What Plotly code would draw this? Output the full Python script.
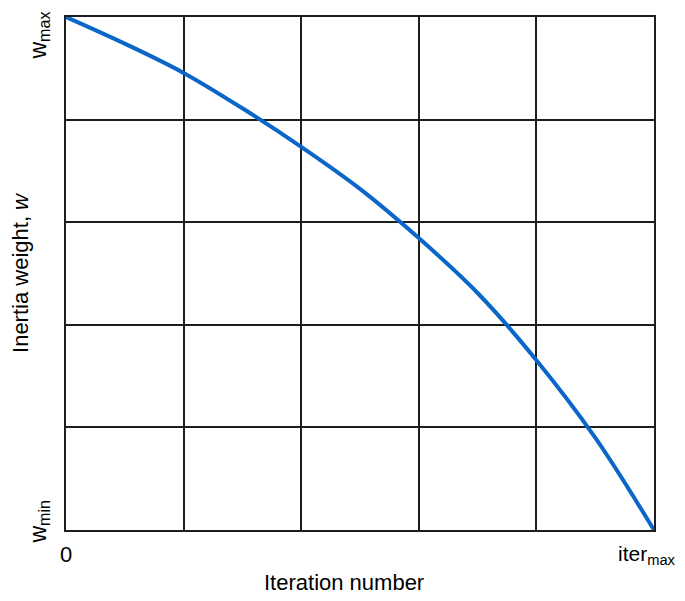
import plotly.graph_objects as go

# normalised iteration (0 -> iter_max) and inertia weight (0 -> w_min, 1 -> w_max)
iteration = [0.0, 0.1, 0.2, 0.3, 0.4, 0.5, 0.6, 0.7, 0.8, 0.9, 1.0]
weight = [1.0, 0.948, 0.891, 0.822, 0.747, 0.665, 0.569, 0.462, 0.331, 0.18, 0.0]

grid_vals = [0, 0.2, 0.4, 0.6, 0.8, 1.0]
x_ticktext = ['0', '', '', '', '', '']
y_label_min = 'w<sub>min</sub>'
y_label_max = 'w<sub>max</sub>'
x_label_max = 'iter<sub>max</sub>'

fig = go.Figure()
fig.add_trace(go.Scatter(x=iteration, y=weight, mode='lines',
                         line=dict(color='#0a66c8', width=4, shape='spline'),
                         hoverinfo='skip', showlegend=False))

axis_common = dict(range=[0, 1], tickmode='array', tickvals=grid_vals,
                   showgrid=True, gridcolor='#1e1e1e', gridwidth=2,
                   showline=True, linecolor='#1e1e1e', linewidth=2, mirror=True,
                   zeroline=False, ticks='', fixedrange=True, automargin=False)

# page body has an 8px margin, so the figure is sized to fit inside the window
fig.update_layout(
    width=677, height=593,
    margin=dict(l=58, r=31, t=9, b=71),
    paper_bgcolor='white', plot_bgcolor='white',
    font=dict(family='Liberation Sans, Arial, sans-serif', color='black', size=20),
    xaxis=dict(**axis_common, ticktext=x_ticktext, tickfont=dict(size=22), ticklabelstandoff=4),
    yaxis=dict(**axis_common, showticklabels=False,
               title=dict(text='Inertia weight, <i>w</i>', font=dict(size=22), standoff=34)),
)

# x axis title, sitting a little left of centre as in the original
fig.add_annotation(x=0.5, y=0, xref='paper', yref='paper', text='Iteration number',
                   showarrow=False, xanchor='center', yanchor='middle', xshift=-16, yshift=-52,
                   font=dict(size=22))

# rotated y tick labels (w_min / w_max)
for val, txt, shift in [(0, y_label_min, 8), (1, y_label_max, -19)]:
    fig.add_annotation(x=0, y=val, xref='paper', yref='y', text=txt, textangle=-90,
                       showarrow=False, xanchor='right', xshift=-11, yshift=shift,
                       font=dict(size=23))

# end label of the iteration axis
fig.add_annotation(x=1, y=0, xref='paper', yref='paper', text=x_label_max,
                   showarrow=False, xanchor='left', yanchor='top', xshift=-38, yshift=-10,
                   font=dict(size=21))

fig.write_html('out.html')
